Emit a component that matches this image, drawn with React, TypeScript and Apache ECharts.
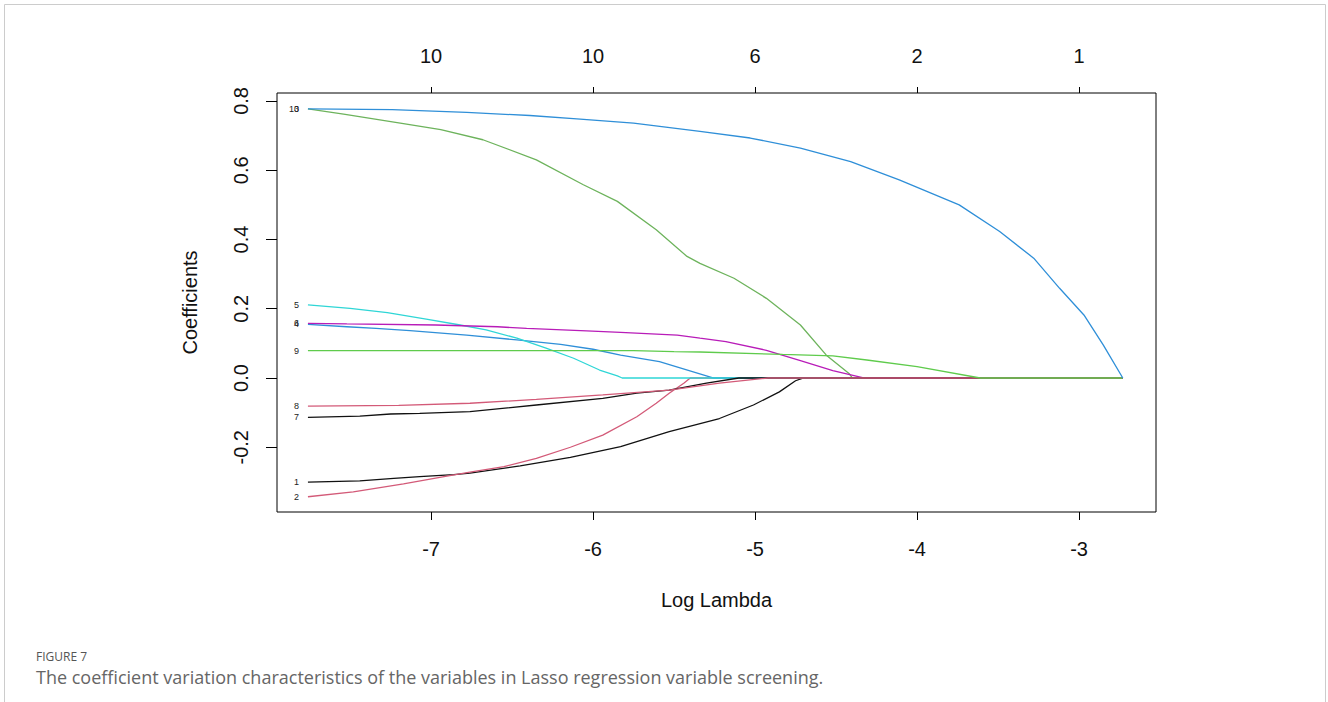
import React, { useEffect, useRef } from "react";
import * as echarts from "echarts";

// x: log(lambda), y: coefficient
const v1: [number, number][] = [[-7.76,-0.301],[-7.44,-0.297],[-7.23,-0.29],[-7.07,-0.285],[-6.86,-0.279],[-6.76,-0.275],[-6.45,-0.254],[-6.14,-0.229],[-5.83,-0.198],[-5.53,-0.155],[-5.22,-0.117],[-5.01,-0.078],[-4.85,-0.040],[-4.75,-0.008],[-4.70,0],[-2.73,0]];
const v2: [number, number][] = [[-7.76,-0.343],[-7.48,-0.329],[-7.17,-0.306],[-6.92,-0.285],[-6.76,-0.272],[-6.55,-0.256],[-6.35,-0.232],[-6.14,-0.200],[-5.94,-0.165],[-5.73,-0.112],[-5.61,-0.073],[-5.53,-0.044],[-5.44,-0.015],[-5.40,0],[-2.73,0]];
const v3: [number, number][] = [[-7.76,0.777],[-7.54,0.762],[-7.19,0.736],[-6.94,0.717],[-6.68,0.688],[-6.35,0.630],[-6.06,0.558],[-5.85,0.51],[-5.61,0.428],[-5.42,0.351],[-5.34,0.331],[-5.13,0.288],[-4.93,0.230],[-4.72,0.153],[-4.56,0.066],[-4.42,0.013],[-4.40,0],[-2.73,0]];
const v4: [number, number][] = [[-7.76,0.155],[-7.52,0.148],[-7.34,0.143],[-7.13,0.137],[-6.78,0.124],[-6.47,0.110],[-6.20,0.097],[-6.00,0.083],[-5.83,0.066],[-5.59,0.047],[-5.28,0.003],[-5.26,0],[-2.73,0]];
const v5: [number, number][] = [[-7.76,0.211],[-7.50,0.201],[-7.27,0.189],[-7.03,0.170],[-6.82,0.153],[-6.66,0.139],[-6.47,0.115],[-6.29,0.086],[-6.12,0.057],[-5.96,0.023],[-5.85,0.006],[-5.82,0],[-2.73,0]];
const v6: [number, number][] = [[-7.76,0.158],[-7.52,0.156],[-6.97,0.153],[-6.59,0.148],[-6.41,0.143],[-6.04,0.136],[-5.83,0.132],[-5.48,0.124],[-5.34,0.115],[-5.18,0.105],[-4.93,0.080],[-4.72,0.050],[-4.52,0.021],[-4.33,0],[-2.73,0]];
const v7: [number, number][] = [[-7.76,-0.114],[-7.44,-0.110],[-7.25,-0.104],[-7.07,-0.102],[-6.76,-0.097],[-6.35,-0.078],[-5.94,-0.059],[-5.73,-0.044],[-5.53,-0.035],[-5.30,-0.015],[-5.10,0],[-2.73,0]];
const v8: [number, number][] = [[-7.76,-0.081],[-7.20,-0.079],[-6.76,-0.073],[-6.35,-0.062],[-5.94,-0.049],[-5.53,-0.035],[-5.22,-0.015],[-4.92,0],[-2.73,0]];
const v9: [number, number][] = [[-7.76,0.079],[-5.75,0.079],[-5.50,0.076],[-5.34,0.075],[-4.83,0.068],[-4.52,0.064],[-4.31,0.052],[-4.00,0.033],[-3.61,0],[-2.73,0]];
const v10: [number, number][] = [[-7.76,0.777],[-7.24,0.775],[-6.78,0.767],[-6.39,0.758],[-6.10,0.748],[-5.75,0.736],[-5.34,0.712],[-5.03,0.693],[-4.72,0.664],[-4.41,0.625],[-4.11,0.572],[-3.74,0.50],[-3.49,0.423],[-3.28,0.346],[-3.12,0.259],[-2.97,0.182],[-2.85,0.095],[-2.73,0]];

const seriesNames = ["1", "2", "3", "4", "5", "6", "7", "8", "9", "10"];
const seriesData = [v1, v2, v3, v4, v5, v6, v7, v8, v9, v10];
const seriesColors = ["#111111", "#D35A78", "#6DB35C", "#2F8FD8", "#2FD6D6", "#B81CB8", "#111111", "#D35A78", "#5FCB4C", "#2F8FD8"];

const xTicks = [-7, -6, -5, -4, -3];
const topTickLabels = ["10", "10", "6", "2", "1"];
const yTicks = [-0.2, 0, 0.2, 0.4, 0.6, 0.8];

const xMin = -7.951, xMax = -2.525;
const yMin = -0.387, yMax = 0.823;

const FONT = "'Liberation Sans', Arial, sans-serif";

export default function App() {
  const ref = useRef<HTMLDivElement>(null);
  useEffect(() => {
    if (!ref.current) return;
    const chart = echarts.init(ref.current, null, { renderer: "svg" });
    const series = seriesData.map((d, i) => ({
      type: "line",
      name: seriesNames[i],
      silent: true,
      showSymbol: true,
      symbol: "circle",
      symbolSize: 0,
      lineStyle: { color: seriesColors[i], width: 1.3 },
      itemStyle: { color: seriesColors[i] },
      emphasis: { disabled: true },
      z: 2,
      data: d.map((p, j) =>
        j === 0
          ? {
              value: p,
              label: {
                show: true,
                position: "left",
                distance: 9,
                formatter: seriesNames[i],
                fontSize: 9,
                fontFamily: FONT,
                color: "#222",
              },
            }
          : { value: p }
      ),
    }));
    const axisLabelStyle = { fontSize: 20, fontFamily: FONT, color: "#111" };
    chart.setOption({
      animation: false,
      backgroundColor: "#fff",
      grid: {
        left: 277,
        top: 93,
        width: 879,
        height: 419,
        show: true,
        borderColor: "#000",
        borderWidth: 1,
        backgroundColor: "transparent",
      },
      xAxis: [
        {
          type: "value",
          position: "bottom",
          min: xMin,
          max: xMax,
          splitLine: { show: false },
          axisLine: { show: false, onZero: false },
          axisTick: { show: true, length: 8, lineStyle: { color: "#000" }, customValues: xTicks },
          axisLabel: { ...axisLabelStyle, margin: 27, customValues: xTicks, formatter: (v: number) => String(v) },
          name: "Log Lambda",
          nameLocation: "middle",
          nameGap: 78,
          nameTextStyle: { fontSize: 20, fontFamily: FONT, color: "#111" },
        },
        {
          type: "value",
          position: "top",
          min: xMin,
          max: xMax,
          splitLine: { show: false },
          axisLine: { show: false, onZero: false },
          axisTick: { show: true, length: 6, lineStyle: { color: "#000" }, customValues: xTicks },
          axisLabel: {
            ...axisLabelStyle,
            margin: 27,
            customValues: xTicks,
            formatter: (v: number) => topTickLabels[xTicks.indexOf(Math.round(v))] ?? "",
          },
        },
      ],
      yAxis: {
        type: "value",
        min: yMin,
        max: yMax,
        splitLine: { show: false },
        axisLine: { show: false, onZero: false },
        axisTick: { show: true, length: 11, lineStyle: { color: "#000" }, customValues: yTicks },
        axisLabel: {
          ...axisLabelStyle,
          rotate: 90,
          margin: 26,
          customValues: yTicks,
          formatter: (v: number) => v.toFixed(1),
        },
        name: "Coefficients",
        nameLocation: "middle",
        nameGap: 77,
        nameRotate: 90,
        nameTextStyle: { fontSize: 20, fontFamily: FONT, color: "#111" },
      },
      series,
      graphic: [
        {
          type: "rect",
          shape: { x: 4.5, y: 4.5, width: 1321, height: 760 },
          style: { fill: "none", stroke: "#cccccc", lineWidth: 1 },
          silent: true,
        },
        {
          type: "text",
          left: 36,
          top: 650,
          style: { text: "FIGURE 7", fontSize: 12, fontFamily: "'Open Sans', sans-serif", fill: "#555" },
        },
        {
          type: "text",
          left: 36,
          top: 668,
          style: {
            text: "The coefficient variation characteristics of the variables in Lasso regression variable screening.",
            fontSize: 18,
            fontFamily: "'Open Sans', sans-serif",
            fill: "#666",
          },
        },
      ],
    });
    return () => chart.dispose();
  }, []);
  return (
    <div
      ref={ref}
      style={{ position: "absolute", left: 0, top: 0, width: 1328, height: 702 }}
    />
  );
}
